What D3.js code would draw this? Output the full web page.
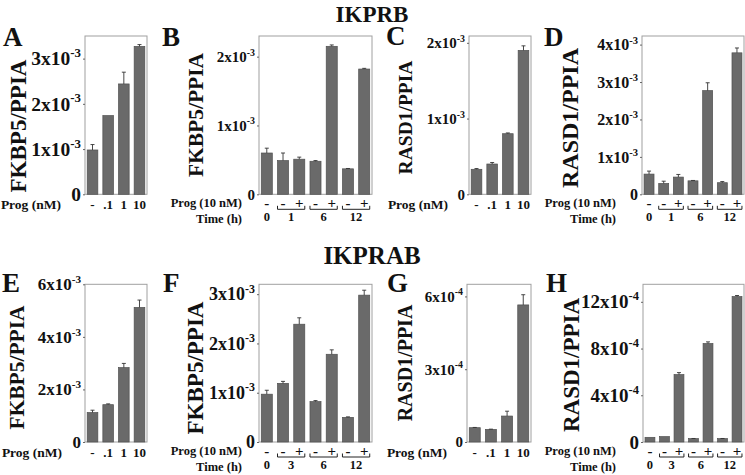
<!DOCTYPE html>
<html><head><meta charset="utf-8">
<script src="https://cdn.jsdelivr.net/npm/d3@7"></script>
<style>body{margin:0;background:#fff}</style>
</head><body><svg id="c" width="745" height="475"></svg>
<script>
// ---------- DATA ----------
const doseCategories = ["-", ".1", "1", "10"];
const timeSigns = ["-", "-", "+", "-", "+", "-", "+"];
const timeLabelsIKPRB = ["0", "1", "6", "12"];
const timeLabelsIKPRAB = ["0", "3", "6", "12"];

// IKPRB
const fkbp5DoseB = [0.98e-3, 1.74e-3, 2.44e-3, 3.27e-3];
const fkbp5DoseBErr = [0.12e-3, 0, 0.26e-3, 0.04e-3];
const fkbp5TimeB = [0.60e-3, 0.49e-3, 0.51e-3, 0.48e-3, 2.15e-3, 0.37e-3, 1.82e-3];
const fkbp5TimeBErr = [0.07e-3, 0.11e-3, 0.03e-3, 0.01e-3, 0.02e-3, 0.005e-3, 0.01e-3];
const rasd1DoseB = [0.33e-3, 0.40e-3, 0.80e-3, 1.90e-3];
const rasd1DoseBErr = [0.01e-3, 0.02e-3, 0.01e-3, 0.06e-3];
const rasd1TimeB = [0.54e-3, 0.29e-3, 0.46e-3, 0.36e-3, 2.77e-3, 0.31e-3, 3.78e-3];
const rasd1TimeBErr = [0.08e-3, 0.06e-3, 0.07e-3, 0.01e-3, 0.21e-3, 0.03e-3, 0.13e-3];

// IKPRAB
const fkbp5DoseAB = [1.12e-3, 1.42e-3, 2.83e-3, 5.12e-3];
const fkbp5DoseABErr = [0.09e-3, 0.03e-3, 0.16e-3, 0.28e-3];
const fkbp5TimeAB = [0.97e-3, 1.19e-3, 2.39e-3, 0.82e-3, 1.78e-3, 0.50e-3, 2.98e-3];
const fkbp5TimeABErr = [0.08e-3, 0.04e-3, 0.13e-3, 0.02e-3, 0.09e-3, 0.01e-3, 0.10e-3];
const rasd1DoseAB = [0.59e-4, 0.52e-4, 1.07e-4, 5.65e-4];
const rasd1DoseABErr = [0.01e-4, 0.01e-4, 0.20e-4, 0.42e-4];
const rasd1TimeAB = [0.40e-4, 0.46e-4, 5.77e-4, 0.29e-4, 8.43e-4, 0.29e-4, 12.45e-4];
const rasd1TimeABErr = [0, 0, 0.17e-4, 0.01e-4, 0.14e-4, 0.01e-4, 0.09e-4];

// y ticks
const ticksA = [0, 1e-3, 2e-3, 3e-3];
const tickLabelsA = ["0", "1x10^-3", "2x10^-3", "3x10^-3"];
const ticksB = [0, 1e-3, 2e-3];
const tickLabelsB = ["0", "1x10^-3", "2x10^-3"];
const ticksC = [0, 1e-3, 2e-3];
const tickLabelsC = ["0", "1x10^-3", "2x10^-3"];
const ticksD = [0, 1e-3, 2e-3, 3e-3, 4e-3];
const tickLabelsD = ["0", "1x10^-3", "2x10^-3", "3x10^-3", "4x10^-3"];
const ticksE = [0, 2e-3, 4e-3, 6e-3];
const tickLabelsE = ["0", "2x10^-3", "4x10^-3", "6x10^-3"];
const ticksF = [0, 1e-3, 2e-3, 3e-3];
const tickLabelsF = ["0", "1x10^-3", "2x10^-3", "3x10^-3"];
const ticksG = [0, 3e-4, 6e-4];
const tickLabelsG = ["0", "3x10^-4", "6x10^-4"];
const ticksH = [0, 4e-4, 8e-4, 12e-4];
const tickLabelsH = ["0", "4x10^-4", "8x10^-4", "12x10^-4"];

// ---------- DRAWING ----------
const serif = "'Liberation Serif','Times New Roman',Times,serif";
const svg = d3.select("#c");
const TOP = {yTop: 36, yBase: 194.3};
const BOT = {yTop: 284.3, yBase: 442};

const panels = [
  {letter:"A", type:"dose", values:fkbp5DoseB, errors:fkbp5DoseBErr, ticks:ticksA, tickLabels:tickLabelsA, ylabel:"FKBP5/PPIA",
   row:TOP, x0:85, x1:147, yMax:3.5e-3, lx:3, ly:46, ylx:18, yly:126, ylfs:23, tfs:19.5, progEnd:61},
  {letter:"B", type:"time", values:fkbp5TimeB, errors:fkbp5TimeBErr, ticks:ticksB, tickLabels:tickLabelsB, ylabel:"FKBP5/PPIA", times:timeLabelsIKPRB,
   row:TOP, x0:259, x1:372, yMax:2.3e-3, lx:162, ly:46, ylx:196, yly:115, ylfs:21.5, tfs:15, progEnd:242},
  {letter:"C", type:"dose", values:rasd1DoseB, errors:rasd1DoseBErr, ticks:ticksC, tickLabels:tickLabelsC, ylabel:"RASD1/PPIA",
   row:TOP, x0:469, x1:531, yMax:2.09e-3, lx:386, ly:45, ylx:405, yly:117.5, ylfs:19.5, tfs:15, progEnd:448},
  {letter:"D", type:"time", values:rasd1TimeB, errors:rasd1TimeBErr, ticks:ticksD, tickLabels:tickLabelsD, ylabel:"RASD1/PPIA", times:timeLabelsIKPRB,
   row:TOP, x0:642, x1:744, yMax:4.23e-3, lx:544, ly:46, ylx:570, yly:118, ylfs:24, tfs:16, progEnd:616},
  {letter:"E", type:"dose", values:fkbp5DoseAB, errors:fkbp5DoseABErr, ticks:ticksE, tickLabels:tickLabelsE, ylabel:"FKBP5/PPIA",
   row:BOT, x0:85, x1:147, yMax:6e-3, lx:2, ly:292, ylx:17, yly:367.5, ylfs:21.5, tfs:17, progEnd:62},
  {letter:"F", type:"time", values:fkbp5TimeAB, errors:fkbp5TimeABErr, ticks:ticksF, tickLabels:tickLabelsF, ylabel:"FKBP5/PPIA", times:timeLabelsIKPRAB,
   row:BOT, x0:259, x1:372, yMax:3.2e-3, lx:163, ly:292, ylx:195, yly:368, ylfs:23, tfs:18, progEnd:242},
  {letter:"G", type:"dose", values:rasd1DoseAB, errors:rasd1DoseABErr, ticks:ticksG, tickLabels:tickLabelsG, ylabel:"RASD1/PPIA",
   row:BOT, x0:467, x1:531, yMax:6.5e-4, lx:387, ly:292, ylx:405, yly:363, ylfs:20, tfs:15, progEnd:447},
  {letter:"H", type:"time", values:rasd1TimeAB, errors:rasd1TimeABErr, ticks:ticksH, tickLabels:tickLabelsH, ylabel:"RASD1/PPIA", times:timeLabelsIKPRAB,
   row:BOT, x0:643, x1:744, yMax:13.5e-4, lx:546, ly:292, ylx:571, yly:365, ylfs:23, tfs:19, progEnd:616}
];

function boldText(g, x, y, txt, fs, anchor) {
  return g.append("text").attr("x", x).attr("y", y).attr("font-family", serif)
    .attr("font-weight", "bold").attr("font-size", fs).attr("fill", "#111")
    .attr("text-anchor", anchor || "middle").text(txt);
}

function drawPanel(p) {
  const g = svg.append("g");
  const yTop = p.row.yTop, yBase = p.row.yBase;
  const x = d3.scaleBand().domain(d3.range(p.values.length)).range([p.x0, p.x1])
    .paddingInner(0.32).paddingOuter(0.14);
  const y = d3.scaleLinear().domain([0, p.yMax]).range([yBase, yTop]);

  // frame
  g.append("rect").attr("x", p.x0).attr("y", yTop).attr("width", p.x1 - p.x0)
    .attr("height", yBase - yTop).attr("fill", "none").attr("stroke", "#a0a0a0").attr("stroke-width", 1);

  // bars
  g.selectAll("rect.bar").data(p.values).join("rect").attr("class", "bar")
    .attr("x", (d, i) => x(i)).attr("y", d => y(d))
    .attr("width", x.bandwidth()).attr("height", d => yBase - y(d))
    .attr("fill", "#6a6a6a").attr("stroke", "#505050").attr("stroke-width", 0.7);

  // error bars
  p.values.forEach((v, i) => {
    const e = p.errors[i];
    if (!(e > 0)) return;
    const cx = x(i) + x.bandwidth() / 2;
    g.append("line").attr("x1", cx).attr("x2", cx).attr("y1", y(v)).attr("y2", y(v + e))
      .attr("stroke", "#333").attr("stroke-width", 0.9);
    g.append("line").attr("x1", cx - 2).attr("x2", cx + 2).attr("y1", y(v + e)).attr("y2", y(v + e))
      .attr("stroke", "#333").attr("stroke-width", 0.9);
  });

  // y axis
  const ax = d3.axisLeft(y).tickValues(p.ticks).tickSize(2).tickPadding(2)
    .tickFormat((d, i) => p.tickLabels[i]);
  const axg = g.append("g").attr("transform", `translate(${p.x0},0)`).call(ax);
  axg.select(".domain").remove();
  axg.selectAll(".tick line").attr("stroke", "#666");
  axg.selectAll(".tick text").each(function (d, i) {
    const parts = p.tickLabels[i].split("^");
    const t = d3.select(this);
    t.text(null).attr("font-family", serif).attr("font-weight", "bold")
      .attr("font-size", p.tfs).attr("fill", "#111");
    t.append("tspan").text(parts[0]);
    if (parts[1]) {
      t.append("tspan").attr("font-size", p.tfs * 0.66).attr("dy", -p.tfs * 0.42).text(parts[1]);
    }
  });

  // panel letter
  boldText(svg, p.lx, p.ly, p.letter, 27, "start");

  // y label
  g.append("text").attr("transform", `translate(${p.ylx},${p.yly}) rotate(-90)`)
    .attr("font-family", serif).attr("font-weight", "bold").attr("font-size", p.ylfs)
    .attr("fill", "#111").attr("text-anchor", "middle").attr("dominant-baseline", "central")
    .text(p.ylabel);

  if (p.type === "dose") {
    doseCategories.forEach((c, i) => {
      boldText(g, x(i) + x.bandwidth() / 2, yBase + 10, c, 13).attr("dominant-baseline", "central");
    });
    boldText(g, p.progEnd, yBase + 10, "Prog (nM)", 13.5, "end").attr("dominant-baseline", "central");
  } else {
    timeSigns.forEach((s, i) => {
      boldText(g, x(i) + x.bandwidth() / 2, yBase + 8.5, s, 15).attr("dominant-baseline", "central");
    });
    const yb = yBase + 15;
    [[1, 2], [3, 4], [5, 6]].forEach(([a, b], k) => {
      const xl = x(a), xr = x(b) + x.bandwidth();
      g.append("path").attr("d", `M${xl},${yb - 3.5}V${yb}H${xr}V${yb - 3.5}`)
        .attr("fill", "none").attr("stroke", "#222").attr("stroke-width", 1);
      boldText(g, (xl + xr) / 2, yBase + 27, p.times[k + 1], 12.5);
    });
    boldText(g, x(0) + x.bandwidth() / 2, yBase + 27, p.times[0], 12.5);
    boldText(g, p.progEnd, yBase + 9, "Prog (10 nM)", 12.5, "end").attr("dominant-baseline", "central");
    boldText(g, p.progEnd, yBase + 24.5, "Time (h)", 12.5, "end").attr("dominant-baseline", "central");
  }
}

panels.forEach(drawPanel);

// titles
boldText(svg, 372, 22, "IKPRB", 23);
boldText(svg, 372, 264, "IKPRAB", 25);
</script>
</body></html>
